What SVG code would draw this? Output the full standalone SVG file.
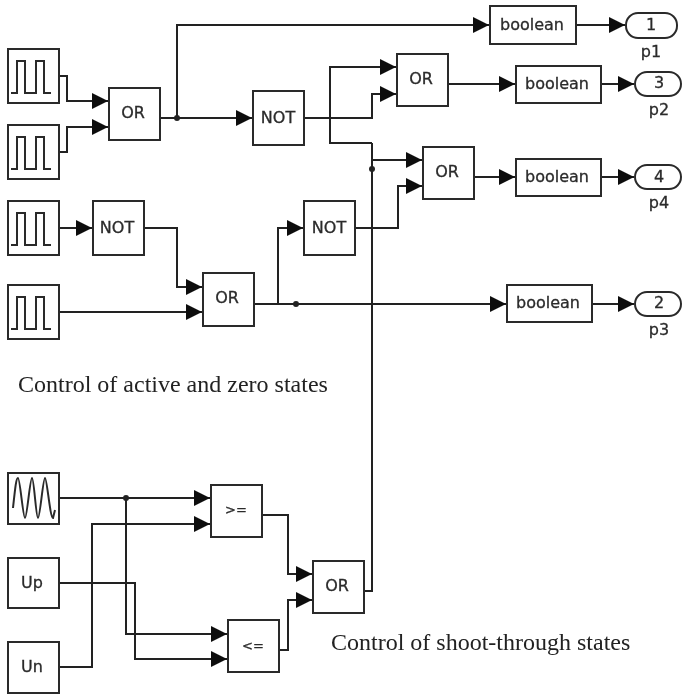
<svg xmlns="http://www.w3.org/2000/svg" width="682" height="696" viewBox="0 0 682 696">
<style>
.b{fill:#fff;stroke:#2a2a2a;stroke-width:2}
.s{fill:none;stroke:#2a2a2a;stroke-width:2}
.w{fill:none;stroke:#222;stroke-width:2}
.a{marker-end:url(#ah)}
.t{font-family:"DejaVu Sans",Verdana,sans-serif;font-size:16px;fill:#2a2a2a;stroke:#2a2a2a;stroke-width:.3;text-anchor:middle}
.r{font-size:13px}
.c{font-family:"Liberation Serif","Times New Roman",serif;font-size:24px;fill:#222}
</style>
<defs>
<filter id="soft" filterUnits="userSpaceOnUse" x="0" y="0" width="682" height="696"><feGaussianBlur stdDeviation="0.4"/></filter>
<marker id="ah" markerUnits="userSpaceOnUse" markerWidth="17" markerHeight="16" refX="16" refY="8" orient="auto"><path d="M0,0L16,8L0,16z" fill="#111"/></marker>
<g id="pw"><path class="s" d="M11,44H17V12H25V44H36V12H44V44H51"/></g>
</defs>
<rect width="682" height="696" fill="#fff"/>
<g filter="url(#soft)">
<g id="connectors">
<path class="w a" d="M59,76H67V101H108"/>
<path class="w a" d="M59,152H67V127H108"/>
<path class="w a" d="M160,118H252"/>
<path class="w a" d="M177,118V25H489"/>
<path class="w a" d="M576,25H625"/>
<path class="w a" d="M304,118H372V94H396"/>
<path class="w a" d="M330,118V67H396"/>
<path class="w" d="M330,118V143H372"/>
<path class="w a" d="M372,160H422"/>
<path class="w a" d="M448,84H515"/>
<path class="w a" d="M601,84H634"/>
<path class="w a" d="M474,177H515"/>
<path class="w a" d="M601,177H634"/>
<path class="w a" d="M59,228H92"/>
<path class="w a" d="M144,228H177V287H202"/>
<path class="w a" d="M59,312H202"/>
<path class="w a" d="M254,304H506"/>
<path class="w a" d="M278,304V228H303"/>
<path class="w a" d="M355,228H398V186H422"/>
<path class="w a" d="M592,304H634"/>
<path class="w a" d="M59,498H210"/>
<path class="w a" d="M126,498V634H227"/>
<path class="w a" d="M59,583H135V659H227"/>
<path class="w a" d="M59,667H92V524H210"/>
<path class="w a" d="M262,515H288V574H312"/>
<path class="w a" d="M279,650H288V600H312"/>
<path class="w" d="M364,591H372V143"/>
<circle cx="177" cy="118" r="3" fill="#222"/>
<circle cx="372" cy="169" r="3" fill="#222"/>
<circle cx="296" cy="304" r="3" fill="#222"/>
<circle cx="126" cy="498" r="3" fill="#222"/>
</g>
<g id="pulse1"><rect class="b" x="8" y="49" width="51" height="54"/><use href="#pw" y="49"/></g>
<g id="pulse2"><rect class="b" x="8" y="125" width="51" height="54"/><use href="#pw" y="125"/></g>
<g id="pulse3"><rect class="b" x="8" y="201" width="51" height="54"/><use href="#pw" y="201"/></g>
<g id="pulse4"><rect class="b" x="8" y="285" width="51" height="54"/><use href="#pw" y="285"/></g>
<g id="or1"><rect class="b" x="109" y="88" width="51" height="52"/><text class="t" x="133" y="118">OR</text></g>
<g id="not1"><rect class="b" x="253" y="91" width="51" height="54"/><text class="t" x="278" y="123">NOT</text></g>
<g id="not2"><rect class="b" x="93" y="201" width="51" height="54"/><text class="t" x="117" y="233">NOT</text></g>
<g id="or2"><rect class="b" x="203" y="273" width="51" height="53"/><text class="t" x="227" y="303">OR</text></g>
<g id="not3"><rect class="b" x="304" y="201" width="51" height="54"/><text class="t" x="329" y="233">NOT</text></g>
<g id="or3"><rect class="b" x="397" y="54" width="51" height="52"/><text class="t" x="421" y="84">OR</text></g>
<g id="or4"><rect class="b" x="423" y="147" width="51" height="52"/><text class="t" x="447" y="177">OR</text></g>
<g id="bool1"><rect class="b" x="490" y="6" width="86" height="38"/><text class="t" x="532" y="30">boolean</text></g>
<g id="bool2"><rect class="b" x="516" y="66" width="85" height="37"/><text class="t" x="557" y="89">boolean</text></g>
<g id="bool3"><rect class="b" x="516" y="159" width="85" height="37"/><text class="t" x="557" y="182">boolean</text></g>
<g id="bool4"><rect class="b" x="507" y="285" width="85" height="37"/><text class="t" x="548" y="308">boolean</text></g>
<g id="port1"><rect class="b" x="626" y="13" width="51" height="25" rx="12"/><text class="t" x="651" y="30">1</text><text class="t" x="651" y="57">p1</text></g>
<g id="port3"><rect class="b" x="635" y="72" width="46" height="24" rx="12"/><text class="t" x="659" y="88">3</text><text class="t" x="659" y="115">p2</text></g>
<g id="port4"><rect class="b" x="635" y="165" width="46" height="24" rx="12"/><text class="t" x="659" y="182">4</text><text class="t" x="659" y="208">p4</text></g>
<g id="port2"><rect class="b" x="635" y="292" width="46" height="24" rx="12"/><text class="t" x="659" y="308">2</text><text class="t" x="659" y="335">p3</text></g>
<g id="tri"><rect class="b" x="8" y="473" width="51" height="51"/><path class="s" d="M13,508C15,490 16,478 18,478C20,478 23,518 25,518C27,518 30,478 32,478C34,478 36,518 38,518C40,518 43,478 45,478C47,478 50,518 53,518L55,510"/></g>
<g id="up"><rect class="b" x="8" y="558" width="51" height="50"/><text class="t" x="32" y="588">Up</text></g>
<g id="un"><rect class="b" x="8" y="642" width="51" height="51"/><text class="t" x="32" y="672">Un</text></g>
<g id="ge"><rect class="b" x="211" y="485" width="51" height="52"/><text class="t r" x="236" y="513.5">&gt;=</text></g>
<g id="le"><rect class="b" x="228" y="620" width="51" height="52"/><text class="t r" x="253" y="649.5">&lt;=</text></g>
<g id="or5"><rect class="b" x="313" y="561" width="51" height="52"/><text class="t" x="337" y="591">OR</text></g>
<text class="c" x="18" y="392">Control of active and zero states</text>
<text class="c" x="331" y="650">Control of shoot-through states</text>
</g>
</svg>
